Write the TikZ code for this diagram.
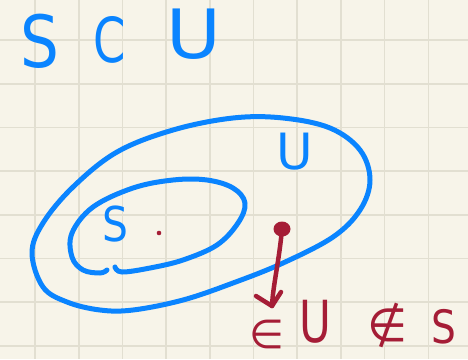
\documentclass[tikz,border=0pt]{standalone}
\usepackage{fontspec}
\setmainfont{DejaVu Sans}
\definecolor{paper}{HTML}{F7F4E9}
\definecolor{gridc}{HTML}{E2DFD1}
\definecolor{inkblue}{HTML}{0A84FF}
\definecolor{inkred}{HTML}{A51D36}
\begin{document}
\begin{tikzpicture}[x=1pt,y=-1pt,
  hwb/.style={inner sep=0pt,text=inkblue},
  hwr/.style={inner sep=0pt,text=inkred},
  blueline/.style={draw=inkblue,line width=5pt,line cap=round,line join=round},
  redline/.style={draw=inkred,line width=4.5pt,line cap=round,line join=round}]
\fill[paper] (0,0) rectangle (468,359);
\useasboundingbox (0,0) rectangle (468,359);
% grid
\foreach \k in {0,...,9} \draw[gridc,line width=1.6pt] ({35+43.7*\k},0) -- ({35+43.7*\k},359);
\foreach \k in {0,...,7} \draw[gridc,line width=1.6pt] (0,{40+43.7*\k}) -- (468,{40+43.7*\k});
% title S C U
\node[hwb,font=\fontsize{72}{72}\selectfont,xscale=0.85] (t1) at (40,41) {S};
\node[hwb,font=\fontsize{62}{62}\selectfont,xscale=0.75] (t2) at (110,40) {C};
\node[hwb,font=\fontsize{68}{68}\selectfont,xscale=1.1] (t3) at (194,34) {U};
% outer set U
\draw[blueline] plot[smooth cycle,tension=0.6] coordinates {
 (43,287) (67,302) (100,310) (133,310) (183,300) (233,283) (283,263) (333,237)
 (360,210) (370,180) (360,150) (330,128) (283,118) (233,118) (173,130) (117,152)
 (73,187) (43,223) (32,253)};
\node[hwb,font=\fontsize{50}{50}\selectfont] (lu) at (295,152) {U};
% inner set S
\draw[blueline] plot[smooth,tension=0.6] coordinates {
 (115,267) (122,272) (150,268) (183,260) (217,245) (238,223) (245,203) (233,188)
 (207,180) (173,180) (133,188) (93,207) (72,233) (72,257) (83,270) (100,273) (107,270)};
\node[hwb,font=\fontsize{48}{48}\selectfont,xscale=0.85] (ls) at (115,224) {S};
\fill[inkred] (159,233) circle (2.3pt);
% element outside S, inside U
\coordinate (dot) at (282,229);
\coordinate (tip) at (272,306);
\fill[inkred] (dot) ellipse (8.5pt and 7.5pt);
\draw[redline] (dot) .. controls (279,262) and (273,285) .. (tip);
\draw[redline] (256,296) -- (tip) -- (281,292);
\node[hwr,font=\fontsize{40}{40}\selectfont] (e1) at (267,334) {∈};
\node[hwr,font=\fontsize{58}{58}\selectfont,xscale=0.75] (e2) at (315,322) {U};
\node[hwr,font=\fontsize{46}{46}\selectfont] (e3) at (388,325) {∉};
\node[hwr,font=\fontsize{46}{46}\selectfont,xscale=0.85] (e4) at (444,327) {S};
\end{tikzpicture}
\end{document}
